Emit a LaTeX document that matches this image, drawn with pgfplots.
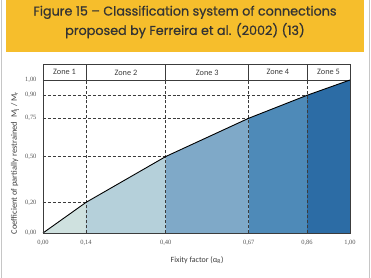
\documentclass[border=0pt]{standalone}
\usepackage{pgfplots}
\pgfplotsset{compat=1.18}
\usepackage{fontspec}
\setmainfont{Liberation Serif}
\newfontfamily\carlito{Carlito}
\newfontfamily\poppins{Poppins}[UprightFeatures={FakeBold=0.7}]
\definecolor{titleyellow}{HTML}{F6BE2C}
\definecolor{titletext}{HTML}{333333}
\definecolor{axisgray}{HTML}{3C3C3C}
\definecolor{labelgray}{HTML}{555555}
\definecolor{zoneA}{HTML}{CFE1DF}
\definecolor{zoneB}{HTML}{B5D0DA}
\definecolor{zoneC}{HTML}{7FA9C8}
\definecolor{zoneD}{HTML}{4E8AB8}
\definecolor{zoneE}{HTML}{2C6CA5}
\tikzset{
  guide/.style={axisgray, line width=0.8pt, dash pattern=on 3pt off 2pt},
  zonelab/.style={font=\carlito\fontsize{8.3}{9}\selectfont, text=axisgray},
}
\begin{document}
\begin{tikzpicture}
\begin{scope}[x=1bp,y=1bp]
\path[use as bounding box] (0,0) rectangle (371,278);
\fill[white] (0,0) rectangle (371,278);
\draw[gray!45, line width=1.2bp] (1.7,0) -- (1.7,278) (369.3,0) -- (369.3,278);
\fill[titleyellow] (6,225.5) rectangle (363.5,278);
\node[font=\poppins\fontsize{12.8}{19.5}\selectfont, text=titletext, align=center] at (185,256) {Figure 15 – Classification system of connections\\proposed by Ferreira et al. (2002) (13)};
\end{scope}
\begin{axis}[
  at={(43bp,45bp)}, anchor=south west,
  scale only axis, width=307bp, height=168.3bp,
  xmin=0, xmax=1, ymin=0, ymax=1.1,
  axis on top,
  clip=false,
  axis line style={draw=axisgray, line width=0.9pt},
  xtick={0,0.14,0.4,0.67,0.86,1},
  xticklabels={{0,00},{0,14},{0,40},{0,67},{0,86},{1,00}},
  ytick={0,0.2,0.5,0.75,0.9,1},
  yticklabels={{0,00},{0,20},{0,50},{0,75},{0,90},{1,00}},
  major tick length=0pt,
  ticklabel style={font=\fontsize{6.5}{7}\selectfont, text=labelgray},
  xticklabel style={yshift=-4bp},
  yticklabel style={xshift=-3bp},
  xlabel={Fixity factor (α\textsubscript{R})},
  ylabel={Coefficient of partially restrained\enspace M\textsubscript{j} / M\textsubscript{r}},
  xlabel style={font=\carlito\fontsize{8}{9}\selectfont, text=axisgray, at={(axis description cs:0.502,-0.16)}, anchor=center},
  ylabel style={font=\carlito\fontsize{8.5}{9}\selectfont, text=axisgray, at={(axis description cs:-0.091,0.416)}, anchor=center},
]
% zone fills
\addplot[fill=zoneA, draw=none] coordinates {(0,0) (0.14,0.2)} \closedcycle;
\addplot[fill=zoneB, draw=none] coordinates {(0.14,0.2) (0.4,0.5)} \closedcycle;
\addplot[fill=zoneC, draw=none] coordinates {(0.4,0.5) (0.67,0.75)} \closedcycle;
\addplot[fill=zoneD, draw=none] coordinates {(0.67,0.75) (0.86,0.9)} \closedcycle;
\addplot[fill=zoneE, draw=none] coordinates {(0.86,0.9) (1,1)} \closedcycle;
% dashed guides
\addplot[guide] coordinates {(0.14,0) (0.14,1)};
\addplot[guide] coordinates {(0.4,0) (0.4,1)};
\addplot[guide] coordinates {(0.67,0) (0.67,1)};
\addplot[guide] coordinates {(0.86,0) (0.86,1)};
\addplot[guide] coordinates {(0,0.2) (0.14,0.2)};
\addplot[guide] coordinates {(0,0.5) (0.4,0.5)};
\addplot[guide] coordinates {(0,0.75) (0.67,0.75)};
\addplot[guide] coordinates {(0,0.9) (0.86,0.9)};
% header row
\addplot[axisgray, line width=0.9pt] coordinates {(0,1) (1,1)};
\addplot[axisgray, line width=0.9pt] coordinates {(0.14,1) (0.14,1.1)};
\addplot[axisgray, line width=0.9pt] coordinates {(0.4,1) (0.4,1.1)};
\addplot[axisgray, line width=0.9pt] coordinates {(0.67,1) (0.67,1.1)};
\addplot[axisgray, line width=0.9pt] coordinates {(0.86,1) (0.86,1.1)};
% curve
\addplot[black, line width=0.9pt] coordinates {(0,0) (0.14,0.2) (0.4,0.5) (0.67,0.75) (0.86,0.9) (1,1)};
\node[zonelab] at (axis cs:0.07,1.05) {Zone 1};
\node[zonelab] at (axis cs:0.27,1.05) {Zone 2};
\node[zonelab] at (axis cs:0.535,1.05) {Zone 3};
\node[zonelab] at (axis cs:0.765,1.05) {Zone 4};
\node[zonelab] at (axis cs:0.93,1.05) {Zone 5};
\end{axis}
\end{tikzpicture}
\end{document}
